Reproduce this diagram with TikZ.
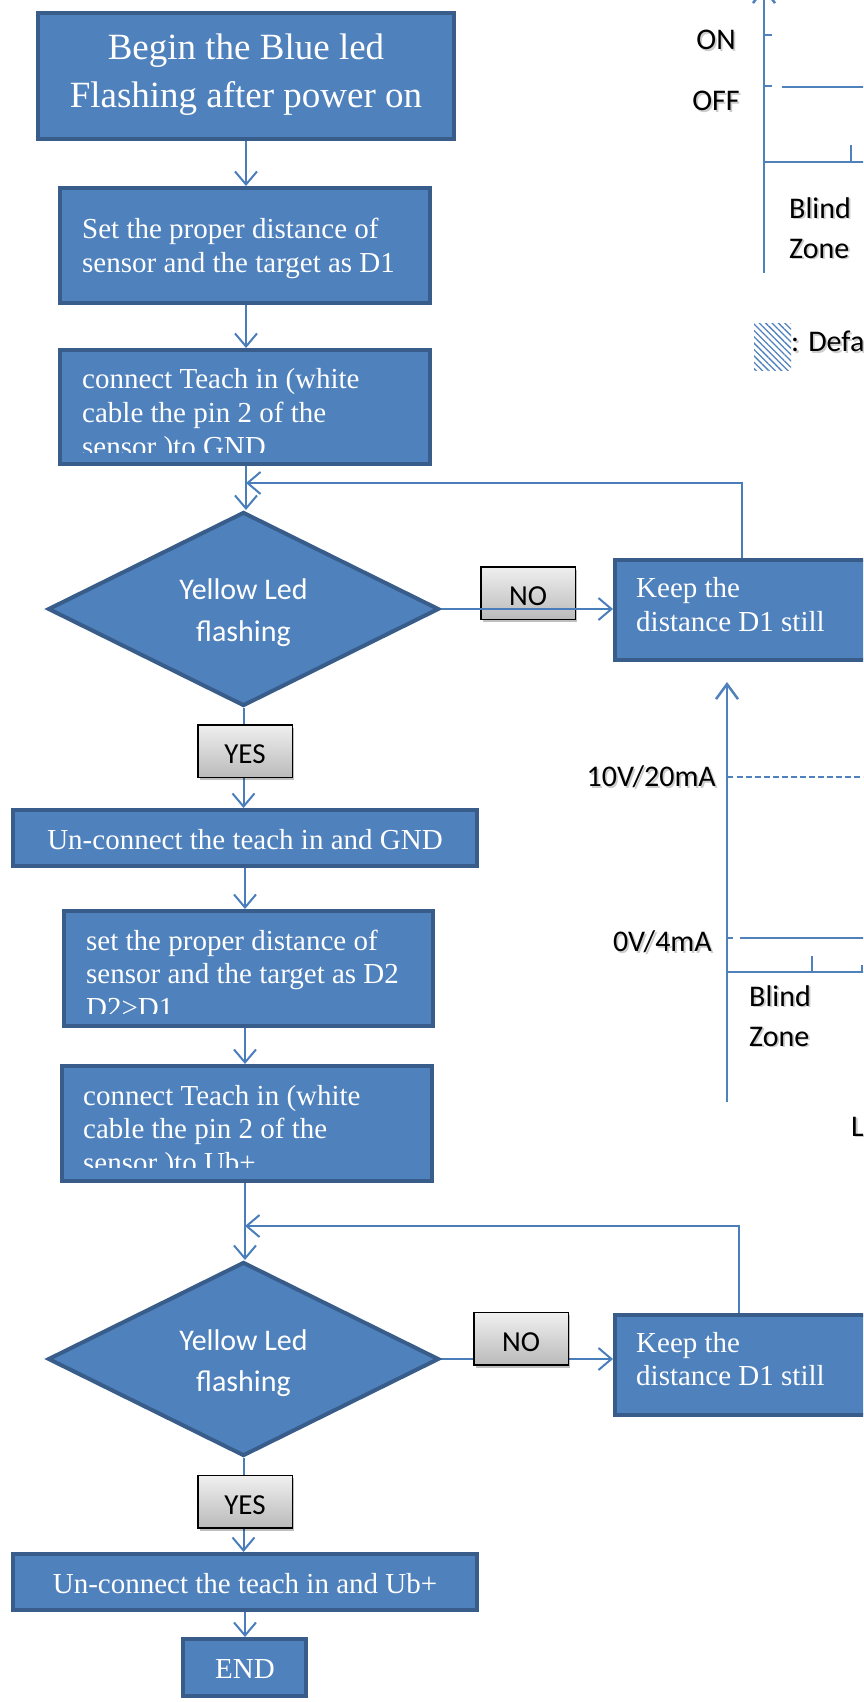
\documentclass[tikz,border=0pt]{standalone}
\usepackage{fontspec}
\setmainfont{Liberation Serif}
\newfontfamily\calib{Carlito}
\usetikzlibrary{arrows.meta,shapes.geometric,shadows,backgrounds,patterns.meta}
\definecolor{boxfill}{HTML}{4F81BD}
\definecolor{boxline}{HTML}{385D8A}
\definecolor{conncol}{HTML}{4A7EBB}
\definecolor{axiscol}{HTML}{4F81BD}
\newcommand\shtxt[1]{\rlap{\kern1.8pt\raisebox{-1.8pt}{\textcolor{black!20}{#1}}}#1}
\begin{document}
\begin{tikzpicture}[x=1pt,y=-1pt,
  box/.style={rectangle,draw=boxline,line width=4pt,fill=boxfill,inner sep=0pt},
  dia/.style={diamond,draw=boxline,line width=4pt,fill=boxfill,inner sep=0pt,aspect=2},
  tag/.style={rectangle,draw=black,line width=1.5pt,top color=black!6,bottom color=black!27,
    drop shadow={shadow xshift=2pt,shadow yshift=-3pt,opacity=0.25,fill=black},
    minimum width=94.5pt,minimum height=52.5pt,inner sep=0pt,text height=25pt,text depth=0pt,
    font=\calib\fontsize{29}{30}\selectfont},
  conn/.style={draw=conncol,line width=2pt,-{Straight Barb[length=13pt,width=22pt]}},
  wt/.style={text=white,inner sep=0pt,anchor=base west,align=left,font=\fontsize{29}{34}\selectfont},
  wsans/.style={text=white,inner sep=0pt,anchor=base,align=center,font=\calib\fontsize{30}{42}\selectfont},
  lbl/.style={inner sep=0pt,text=black,font=\calib\fontsize{30}{40}\selectfont},
  axis/.style={draw=axiscol,line width=2.5pt},
  thin/.style={draw=axiscol,line width=2pt}
]
\useasboundingbox (0,0) rectangle (863,1702);
\clip (0,0) rectangle (863,1702);

% ---------- flowchart boxes (text nodes: base = last line baseline) ----------
\node[box,minimum width=416pt,minimum height=126pt] (b1) at (246,76) {};
\node[wt,anchor=base,align=center,font=\fontsize{37}{48}\selectfont] (t1) at (246,107) {Begin the Blue led\\Flashing after power on};

\node[box,minimum width=370pt,minimum height=115pt] (b2) at (245,245.5) {};
\node[wt] (t2) at (82,272) {Set the proper distance of\\sensor and the target as D1};

\node[box,minimum width=370pt,minimum height=114pt] (b3) at (245,407) {};
\begin{scope}
\clip (60,350) rectangle (430,452);
\node[wt] (t3) at (82,456) {connect Teach in (white\\cable the pin 2 of the\\sensor )to GND};
\end{scope}

\node[dia,minimum width=391pt,minimum height=194pt] (d1) at (243.5,609) {};
\node[wsans] (t4) at (243.5,641) {Yellow Led\\flashing};

\node[box,minimum width=293pt,minimum height=100pt] (k1) at (761.5,610) {};
\node[wt] (t5) at (636,631) {Keep the\\distance D1 still};

\node[tag] (no1) at (528,593) {NO};
\node[tag] (yes1) at (245,751) {YES};

\node[box,minimum width=464pt,minimum height=56pt] (u1) at (245,838) {};
\node[wt,anchor=base] (t6) at (245,849) {Un-connect the teach in and GND};

\node[box,minimum width=369pt,minimum height=115pt] (b4) at (248.5,968.5) {};
\begin{scope}
\clip (64,911) rectangle (433,1013);
\node[wt,font=\fontsize{29}{33.5}\selectfont] (t7) at (86,1017) {set the proper distance of\\sensor and the target as D2\\D2>D1};
\end{scope}

\node[box,minimum width=370pt,minimum height=115pt] (b5) at (247,1123.5) {};
\begin{scope}
\clip (62,1066) rectangle (432,1167);
\node[wt,font=\fontsize{29}{33.5}\selectfont] (t8) at (83,1172) {connect Teach in (white\\cable the pin 2 of the\\sensor )to Ub+};
\end{scope}

\node[dia,minimum width=391pt,minimum height=194pt] (d2) at (243.5,1359) {};
\node[wsans,font=\calib\fontsize{30}{41}\selectfont] (t9) at (243.5,1391) {Yellow Led\\flashing};

\node[box,minimum width=293pt,minimum height=100pt] (k2) at (761.5,1365) {};
\node[wt,font=\fontsize{29}{33}\selectfont] (t10) at (636,1385) {Keep the\\distance D1 still};

\node[tag] (no2) at (521,1338.5) {NO};
\node[tag] (yes2) at (245,1501.5) {YES};

\node[box,minimum width=464pt,minimum height=56pt] (u2) at (245,1582) {};
\node[wt,anchor=base] (t11) at (245,1593) {Un-connect the teach in and Ub+};

\node[box,minimum width=123pt,minimum height=57pt] (e) at (244.5,1667.5) {};
\node[wt,anchor=base] (t12) at (245,1678) {END};

% ---------- connectors ----------
\coordinate (lp1) at (742,483);
\coordinate (lp2) at (739,1226);
\begin{scope}[on background layer]
\draw[conn] (b1.south) -- (b1.south |- b2.north);
\draw[conn] (b2.south -| b1.south) -- (b1.south |- b3.north);
\draw[conn] (b3.south -| b1.south) -- (b1.south |- d1.north);
\draw[conn] (k1.north -| lp1) -- (lp1) -- (lp1 -| b1.south);
\draw[conn] (d1.south) -- (d1.south |- u1.north);
\draw[conn] (u1.south) -- (u1.south |- b4.north);
\draw[conn] (b4.south -| u1.south) -- (u1.south |- b5.north);
\draw[conn] (b5.south -| u1.south) -- (u1.south |- d2.north);
\draw[conn] (k2.north -| lp2) -- (lp2) -- (lp2 -| u1.south);
\draw[conn] (d2.east) -- (d2.east -| k2.west);
\draw[conn] (d2.south) -- (d2.south |- u2.north);
\draw[conn] (u2.south) -- (u2.south |- e.north);
\end{scope}
\draw[conn] (d1.east) -- (d1.east -| k1.west);

% ---------- top chart ----------
\draw[axis,-{Straight Barb[length=15pt,width=22pt]}] (764,273) -- (764,-14);
\draw[axis] (764,35) -- (772,35);
\draw[axis] (764,86) -- (772,86);
\draw[thin] (782,87) -- (870,87);
\draw[axis] (764,162) -- (870,162);
\draw[thin] (851,145) -- (851,162);
\node[lbl] (on) at (716,41) {\shtxt{ON}};
\node[lbl] (off) at (716,102) {\shtxt{OFF}};
\node[lbl,anchor=base west,align=left] (bz1) at (789,258) {\shtxt{Blind}\\\shtxt{Zone}};
\fill[pattern={Lines[angle=-45,distance=4.5pt,line width=1.3pt]},pattern color=axiscol] (754,323) rectangle (791,370);
\node[lbl,anchor=west] (leg) at (791,342) {\shtxt{: Defa}};

% ---------- middle chart ----------
\draw[axis,-{Straight Barb[length=15pt,width=22pt]}] (727,1102) -- (727,682);
\draw[thin] (727,777) -- (733,777);
\draw[thin,line width=1.5pt,dash pattern=on 6pt off 3pt] (737,777) -- (870,777);
\draw[thin] (727,938) -- (733,938);
\draw[thin] (740,938) -- (870,938);
\draw[axis] (727,972) -- (870,972);
\draw[thin] (812,956) -- (812,972);
\draw[thin] (862,965) -- (862,972);
\node[lbl,anchor=east] (v10) at (716,778) {\shtxt{10V/20mA}};
\node[lbl,anchor=east] (v0) at (712,943) {\shtxt{0V/4mA}};
\node[lbl,anchor=base west,align=left] (bz2) at (749,1046) {\shtxt{Blind}\\\shtxt{Zone}};
\node[lbl,anchor=base west] (lcut) at (851,1136) {\shtxt{L}};
\end{tikzpicture}
\end{document}
